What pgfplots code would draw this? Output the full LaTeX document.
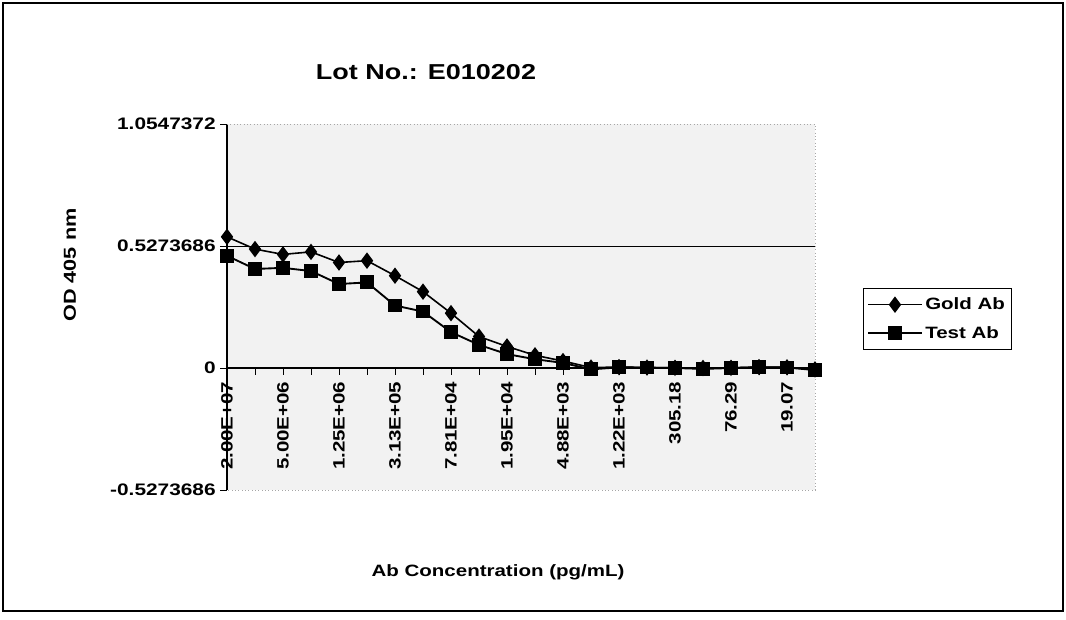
\documentclass[border=0pt]{standalone}
\usepackage{fontspec}
\setmainfont{Liberation Sans}[FakeStretch=1.25]
\usepackage{pgfplots}
\pgfplotsset{compat=1.18}
\def\px{0.75pt}
\begin{document}
\begin{tikzpicture}
\useasboundingbox (0,0) rectangle (1066*\px,-620*\px);
\draw[line width=1.2pt] (3*\px,-3*\px) rectangle (1063*\px,-611*\px);
\node[font=\bfseries\fontsize{16.2}{19}\selectfont] at (426*\px,-72*\px) {Lot No.: E010202};
\node[font=\bfseries\fontsize{13}{15}\selectfont, rotate=90] at (70*\px,-265*\px) {OD 405 nm};
\node[font=\bfseries\fontsize{12.3}{14}\selectfont] at (498*\px,-572*\px) {Ab Concentration (pg/mL)};
\begin{axis}[
  at={(227*\px,-490*\px)}, anchor=south west,
  scale only axis, width=441pt, height=274.5pt,
  xmin=0, xmax=21, ymin=-0.5273686, ymax=1.0547372,
  axis x line*=middle, axis y line*=left,
  hide obscured x ticks=false, hide obscured y ticks=false,
  axis background/.style={fill=black!5},
  axis line style={black, line width=0.8pt},
  xtick={0,2,...,20},
  xticklabels={2.00E+07,5.00E+06,1.25E+06,3.13E+05,7.81E+04,1.95E+04,4.88E+03,1.22E+03,305.18,76.29,19.07},
  minor xtick={1,3,...,21},
  ytick={-0.5273686,0,0.5273686,1.0547372},
  yticklabels={-0.5273686,0,0.5273686,1.0547372},
  tick align=outside,
  major tick length=5pt, minor tick length=5pt,
  tick style={black, line width=0.6pt},
  x tick label style={rotate=90, anchor=east, font=\bfseries\fontsize{12.3}{14}\selectfont, inner xsep=5pt, inner ysep=1pt},
  y tick label style={font=\bfseries\fontsize{12.5}{14}\selectfont},
  clip=false,
  legend style={at={(1.0816,0.5519)}, anchor=north west, draw=black, line width=0.6pt,
    font=\bfseries\fontsize{12.3}{14}\selectfont, row sep=7pt, inner xsep=3pt, inner ysep=5pt},
  legend cell align=left,
  legend image code/.code={\draw[mark repeat=2,mark phase=2,#1] plot coordinates {(0pt,0pt) (20pt,0pt) (40pt,0pt)};},
]
\draw[black!35, line width=0.5pt, dotted] (rel axis cs:0,1) -- (rel axis cs:1,1) -- (rel axis cs:1,0) -- (rel axis cs:0,0);
\draw[black, line width=0.7pt] (axis cs:0,0.5273686) -- (axis cs:21,0.5273686);
\addplot[black, line width=1.2pt, mark=diamond*, mark size=5.2pt, mark options={solid}] coordinates {
(0,0.567) (1,0.514) (2,0.491) (3,0.502) (4,0.456) (5,0.464) (6,0.399) (7,0.330)
(8,0.237) (9,0.136) (10,0.093) (11,0.055) (12,0.030) (13,0.002) (14,0.004) (15,0.002)
(16,0.001) (17,0.000) (18,0.001) (19,0.004) (20,0.003) (21,-0.006)};
\addlegendentry{Gold Ab}
\addplot[black, line width=1.4pt, mark=square*, mark size=4.5pt, mark options={solid}] coordinates {
(0,0.485) (1,0.428) (2,0.433) (3,0.419) (4,0.363) (5,0.370) (6,0.270) (7,0.244)
(8,0.155) (9,0.100) (10,0.060) (11,0.038) (12,0.022) (13,-0.006) (14,0.003) (15,0.002)
(16,0.000) (17,-0.004) (18,0.000) (19,0.004) (20,0.002) (21,-0.009)};
\addlegendentry{Test Ab}
\end{axis}
\end{tikzpicture}
\end{document}
